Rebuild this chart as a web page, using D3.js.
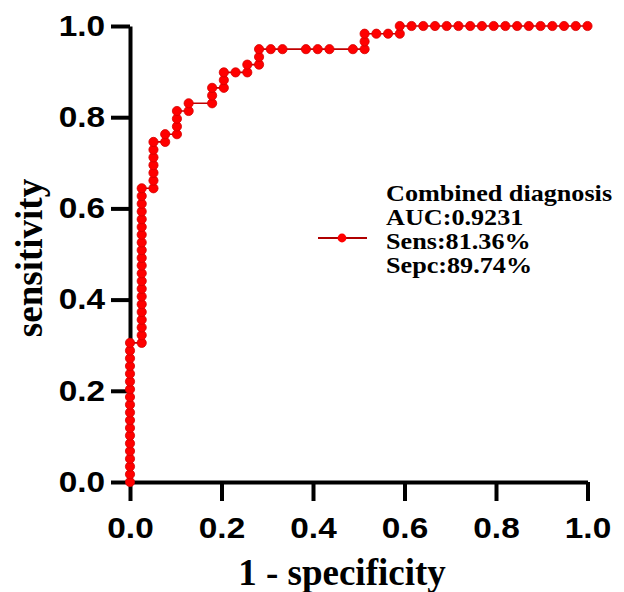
<!DOCTYPE html>
<html>

<head>
    <meta charset="utf-8">
    <script src="https://d3js.org/d3.v7.min.js"></script>
    <style>
        body {
            margin: 0;
            background: #fff;
        }

        .tick text {
            font-family: "Liberation Sans", Arial, sans-serif;
            font-weight: bold;
            font-size: 29px;
            fill: #000;
        }

        .title {
            font-family: "Liberation Serif", "Times New Roman", serif;
            font-weight: bold;
        }
    </style>
</head>

<body>
    <div id="chart"></div>
    <script type="text/javascript">
        // 1 - specificity for each ROC point
        var oneMinusSpec = [
            0, 0, 0, 0, 0, 0, 0, 0, 0, 0, 0, 0, 0, 0, 0, 0, 0, 0, 0,
            .0256, .0256, .0256, .0256, .0256, .0256, .0256, .0256, .0256, .0256, .0256,
            .0256, .0256, .0256, .0256, .0256, .0256, .0256, .0256, .0256, .0256,
            .0513, .0513, .0513, .0513, .0513, .0513, .0513,
            .0769, .0769,
            .1026, .1026, .1026, .1026,
            .1282, .1282,
            .1795, .1795, .1795,
            .2051, .2051, .2051,
            .2308,
            .2564, .2564,
            .2821, .2821, .2821,
            .3077, .3333, .3846, .4103, .4359, .4872,
            .5128, .5128, .5128,
            .5385, .5641,
            .5897, .5897,
            .6154, .6410, .6667, .6923, .7179, .7436, .7692, .7949,
            .8205, .8462, .8718, .8974, .9231, .9487, .9744, 1
        ];
        // sensitivity for each ROC point
        var sensitivity = [
            0, .0169, .0339, .0508, .0678, .0847, .1017, .1186, .1356, .1525,
            .1695, .1864, .2034, .2203, .2373, .2542, .2712, .2881, .3051,
            .3051, .3220, .3390, .3559, .3729, .3898, .4068, .4237, .4407, .4576, .4746,
            .4915, .5085, .5254, .5424, .5593, .5763, .5932, .6102, .6271, .6441,
            .6441, .6610, .6780, .6949, .7119, .7288, .7458,
            .7458, .7627,
            .7627, .7797, .7966, .8136,
            .8136, .8305,
            .8305, .8475, .8644,
            .8644, .8814, .8983,
            .8983,
            .8983, .9153,
            .9153, .9322, .9492,
            .9492, .9492, .9492, .9492, .9492, .9492,
            .9492, .9661, .9831,
            .9831, .9831,
            .9831, 1,
            1, 1, 1, 1, 1, 1, 1, 1, 1, 1, 1, 1, 1, 1, 1, 1
        ];
        var tickValues = [0, 0.2, 0.4, 0.6, 0.8, 1.0];
        var legendLines = ["Combined diagnosis", "AUC:0.9231", "Sens:81.36%", "Sepc:89.74%"];

        var points = oneMinusSpec.map(function (d, i) {
            return { x: d, y: sensitivity[i] };
        });

        var width = 624, height = 592;
        var svg = d3.select("#chart").append("svg")
            .attr("width", width)
            .attr("height", height);

        var x = d3.scaleLinear().domain([0, 1]).range([130, 587.5]);
        var y = d3.scaleLinear().domain([0, 1]).range([482, 26]);

        // stretch the text a little wider, like the original figure
        function stretch(sel, k) {
            sel.each(function () {
                var len = this.getComputedTextLength();
                d3.select(this)
                    .attr("textLength", len * k)
                    .attr("lengthAdjust", "spacingAndGlyphs");
            });
        }

        var xAxis = svg.append("g")
            .attr("transform", "translate(0," + y(0) + ")")
            .call(d3.axisBottom(x).tickValues(tickValues).tickSize(19).tickSizeOuter(0)
                .tickPadding(16).tickFormat(d3.format(".1f")));

        var yAxis = svg.append("g")
            .attr("transform", "translate(" + x(0) + ",0)")
            .call(d3.axisLeft(y).tickValues(tickValues).tickSize(19).tickSizeOuter(0)
                .tickPadding(6).tickFormat(d3.format(".1f")));

        [xAxis, yAxis].forEach(function (ax) {
            ax.select(".domain").attr("stroke", "#000").attr("stroke-width", 4);
            ax.selectAll(".tick line").attr("stroke", "#000").attr("stroke-width", 4);
            ax.selectAll(".tick text").call(stretch, 1.15);
        });

        // curve
        var line = d3.line()
            .x(function (d) { return x(d.x); })
            .y(function (d) { return y(d.y); });

        svg.append("path")
            .datum(points)
            .attr("fill", "none")
            .attr("stroke", "#c00000")
            .attr("stroke-width", 1.6)
            .attr("d", line);

        svg.append("g")
            .selectAll("circle")
            .data(points)
            .enter()
            .append("circle")
            .attr("cx", function (d) { return x(d.x); })
            .attr("cy", function (d) { return y(d.y); })
            .attr("r", 4.6)
            .attr("fill", "#ff0000")
            .attr("stroke", "#d40000")
            .attr("stroke-width", 0.8);

        // axis titles
        svg.append("text")
            .attr("class", "title")
            .attr("x", 342)
            .attr("y", 585)
            .attr("text-anchor", "middle")
            .style("font-size", "37px")
            .text("1 - specificity");

        svg.append("text")
            .attr("class", "title")
            .attr("transform", "translate(42,258) rotate(-90)")
            .attr("text-anchor", "middle")
            .style("font-size", "37px")
            .text("sensitivity");

        // legend
        var legend = svg.append("g");
        legend.append("line")
            .attr("x1", 318).attr("x2", 367)
            .attr("y1", 238).attr("y2", 238)
            .attr("stroke", "#b00000")
            .attr("stroke-width", 2);
        legend.append("circle")
            .attr("cx", 342).attr("cy", 238).attr("r", 4.4)
            .attr("fill", "#ff0000");

        legend.selectAll("text.leg")
            .data(legendLines)
            .enter()
            .append("text")
            .attr("class", "title leg")
            .attr("x", 386)
            .attr("y", function (d, i) { return 201 + i * 24; })
            .style("font-size", "24px")
            .text(function (d) { return d; })
            .call(stretch, 1.09);
    </script>

</body>

</html>
